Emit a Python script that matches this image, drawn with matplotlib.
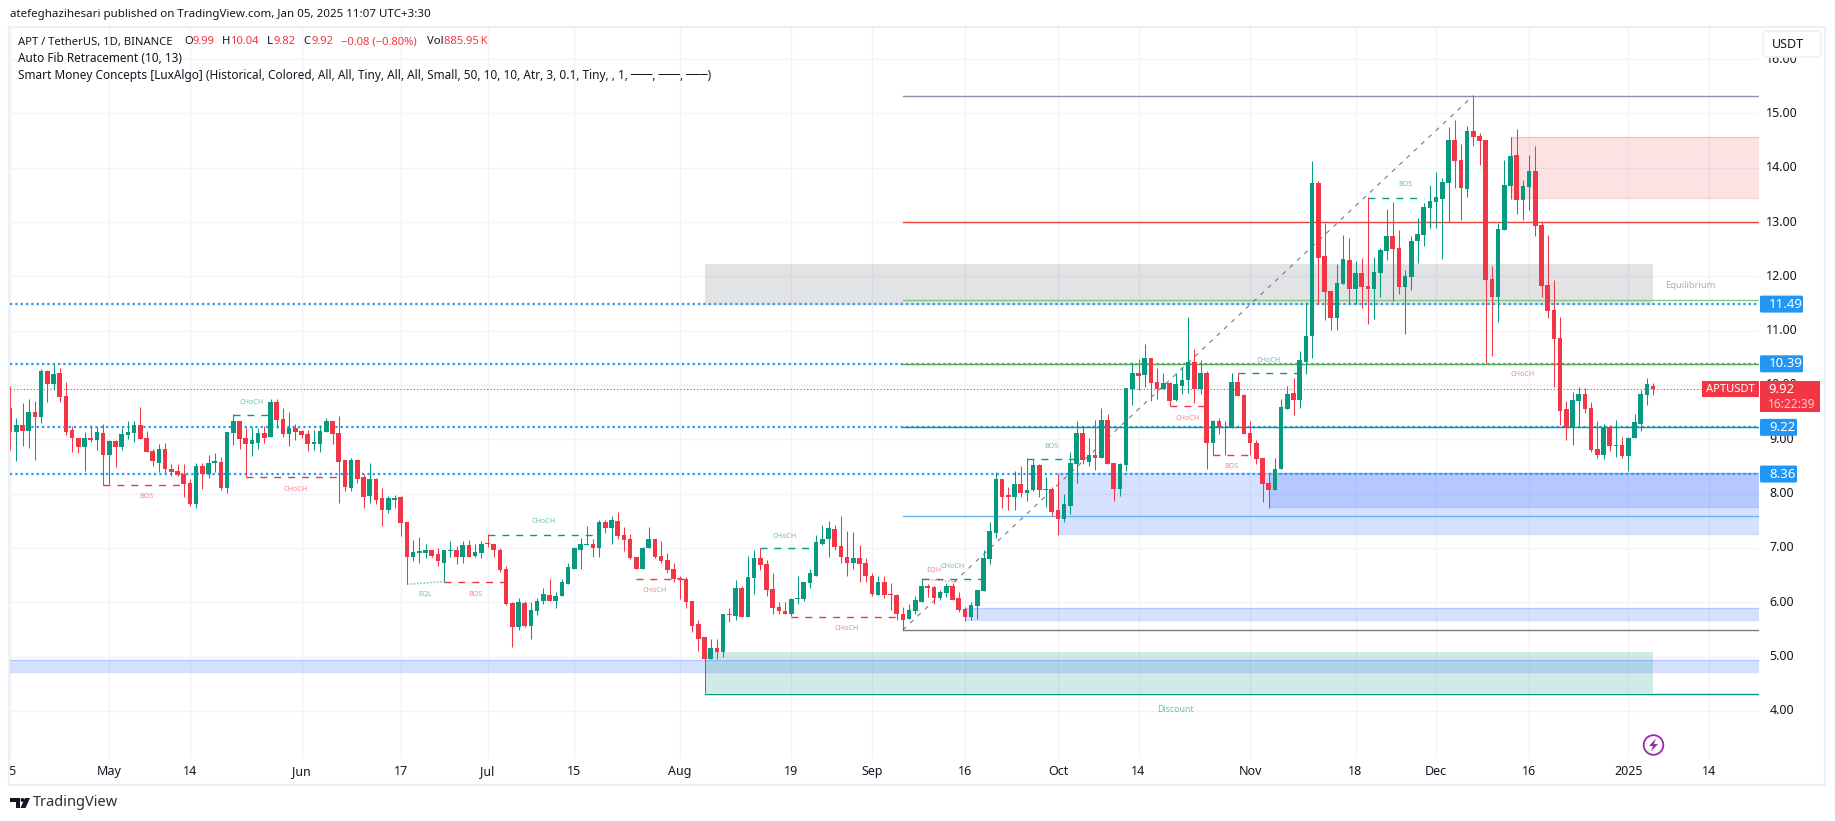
import numpy as np
import pandas as pd
import matplotlib
matplotlib.use("Agg")
import matplotlib.pyplot as plt
from matplotlib.patches import Rectangle, FancyBboxPatch, Circle, Polygon

plt.rcParams['font.family'] = ['Noto Sans', 'DejaVu Sans']

GREEN = '#089981'
RED = '#F23645'
BLUE = '#2196F3'
GRID = '#F1F3F8'
DARK = '#131722'

# daily candles, Apr 15 2024 to Jan 5 2025
start_date = '2024-04-15'
opens = [9.58,9.13,9.27,9.15,9.51,9.41,10.25,10.01,10.22,9.79,
         9.18,9.03,8.86,9.02,8.98,9.11,8.71,8.96,8.86,9.08,
         9.11,9.26,9.02,8.78,8.57,8.83,8.46,8.41,8.37,8.20,
         7.80,8.50,8.37,8.57,8.59,8.11,9.11,9.33,9.02,8.92,
         8.94,9.11,9.05,9.68,9.37,9.09,9.20,9.16,9.09,8.92,
         8.92,9.14,9.33,9.11,8.61,8.11,8.61,8.30,7.96,8.26,
         7.91,7.69,7.89,7.93,7.47,6.83,6.91,6.91,6.96,6.88,
         6.73,6.94,6.96,6.84,7.05,6.86,6.91,7.08,7.07,6.97,
         6.61,5.98,5.54,5.98,5.57,5.83,6.02,6.14,6.03,6.11,
         6.33,6.62,6.97,7.05,7.07,6.99,7.47,7.36,7.49,7.23,
         7.16,6.83,6.61,6.99,7.16,6.86,6.77,6.61,6.44,6.42,
         6.02,5.59,5.35,4.96,5.15,5.08,5.78,5.74,6.27,5.72,
         6.44,6.81,6.70,6.24,5.92,5.83,5.78,6.05,6.05,6.35,
         6.49,7.08,7.16,7.34,7.03,6.84,6.73,6.81,6.72,6.49,
         6.14,6.37,6.14,6.13,5.78,5.69,5.84,6.01,6.30,6.28,
         6.08,6.17,6.30,6.08,5.88,5.73,5.93,6.21,6.80,7.28,
         8.26,7.98,7.94,8.17,8.02,8.06,8.52,8.06,8.09,7.69,
         7.54,7.78,8.55,9.11,8.59,8.72,8.66,9.35,8.57,8.09,
         8.52,9.92,10.22,10.18,10.49,10.05,9.92,10.03,9.72,9.99,
         10.09,10.42,9.92,10.22,8.94,9.33,9.20,9.20,10.05,9.81,
         9.11,8.94,8.65,8.20,8.06,8.46,9.55,9.85,9.72,10.43,
         10.90,13.72,12.37,11.73,11.23,11.86,12.30,11.77,12.06,11.82,
         11.77,12.06,12.47,12.74,12.52,11.80,11.99,12.65,12.76,13.26,
         13.37,13.42,13.72,14.51,14.14,13.61,14.67,14.58,14.51,11.95,
         11.62,12.85,13.66,14.23,13.40,13.64,13.94,12.94,11.84,11.38,
         10.87,9.55,9.22,9.70,9.83,9.57,8.83,8.72,9.20,8.87,
         8.89,8.70,9.02,9.29,9.81,9.99]
highs = [9.98,9.40,9.66,9.75,9.70,10.30,10.27,10.41,10.32,10.05,
         9.25,9.03,9.13,9.26,9.22,9.29,8.98,8.98,9.20,9.33,
         9.33,9.59,9.16,8.83,8.92,8.94,8.54,8.54,8.55,8.26,
         8.57,8.57,8.72,8.74,8.68,9.13,9.46,9.33,9.20,9.22,
         9.20,9.24,9.75,9.74,9.57,9.50,9.29,9.18,9.18,9.18,
         9.26,9.40,9.33,9.42,8.61,8.65,8.63,8.37,8.57,8.28,
         8.11,7.96,7.98,7.95,7.47,7.14,7.20,7.07,6.96,7.00,
         6.97,7.12,7.03,7.12,7.14,7.07,7.12,7.25,7.08,6.99,
         6.66,6.00,6.07,6.02,6.00,6.07,6.27,6.42,6.18,6.42,
         6.72,7.01,7.18,7.40,7.16,7.51,7.51,7.58,7.67,7.38,
         7.25,6.84,7.01,7.38,7.16,7.12,6.90,6.72,6.48,6.46,
         6.03,5.67,5.35,5.33,5.33,5.78,5.90,6.40,6.29,6.86,
         6.96,6.99,6.77,6.53,6.00,6.00,6.07,6.48,6.38,6.61,
         7.23,7.42,7.49,7.42,7.58,7.31,7.29,7.05,6.81,6.53,
         6.48,6.49,6.35,6.16,5.91,5.97,6.12,6.43,6.34,6.30,
         6.23,6.36,6.36,6.19,5.91,6.01,6.23,6.97,7.47,8.39,
         8.26,8.13,8.41,8.50,8.65,8.61,8.55,8.30,8.13,8.37,
         8.00,8.76,9.33,9.24,9.02,9.35,9.57,9.46,8.57,8.57,
         9.94,10.42,10.47,10.75,10.49,10.31,10.22,10.05,10.23,10.34,
         11.26,10.66,10.46,10.25,9.35,9.40,9.33,10.22,10.23,9.83,
         9.33,8.98,8.66,8.37,8.66,9.75,9.99,10.12,10.62,11.53,
         14.13,13.75,12.98,11.73,12.23,12.76,12.71,12.28,12.34,13.46,
         12.36,12.52,13.24,13.37,12.85,12.12,12.74,13.07,13.35,13.68,
         13.92,13.81,14.75,14.88,14.44,14.77,15.33,14.64,14.51,12.19,
         12.98,14.14,14.56,14.71,13.77,14.23,14.40,13.00,12.76,11.93,
         11.25,9.70,9.87,9.96,9.94,9.68,9.33,9.29,9.27,9.35,
         9.05,9.05,9.46,9.90,10.12,10.04]
lows = [8.81,8.60,8.87,8.84,8.62,9.30,9.69,9.91,9.69,9.08,
        8.76,8.74,8.41,8.95,8.80,8.15,8.17,8.49,8.80,9.00,
        8.95,9.00,8.76,8.50,8.39,8.38,8.32,8.32,7.94,7.77,
        7.73,8.09,8.28,8.39,8.07,8.02,8.90,8.83,8.30,8.70,
        8.83,8.94,9.04,9.20,9.05,8.87,8.98,9.03,8.79,8.81,
        8.76,9.14,8.92,7.83,8.04,8.04,8.20,7.74,7.82,7.80,
        7.41,7.65,7.74,7.22,6.33,6.76,6.72,6.81,6.83,6.66,
        6.38,6.84,6.70,6.73,6.84,6.83,6.81,7.01,6.84,6.55,
        5.94,5.17,5.48,5.55,5.33,5.76,5.96,6.02,5.90,6.11,
        6.33,6.62,6.61,7.05,6.84,6.84,7.27,7.08,7.16,6.94,
        6.79,6.61,6.61,6.99,6.81,6.73,6.53,6.38,6.05,5.89,
        5.46,5.11,4.32,4.96,4.95,5.00,5.63,5.68,5.72,5.72,
        6.16,6.59,6.11,5.79,5.79,5.78,5.74,5.96,6.02,6.26,
        6.49,7.05,6.83,6.96,6.72,6.49,6.61,6.38,6.38,6.11,
        6.13,6.07,5.85,5.68,5.49,5.69,5.78,6.01,6.10,5.97,
        6.04,6.10,6.04,5.82,5.66,5.67,5.69,6.21,6.71,7.19,
        7.74,7.69,7.70,7.94,7.87,8.04,7.93,7.76,7.58,7.24,
        7.48,7.63,8.20,8.55,8.50,8.44,8.66,8.54,7.87,7.96,
        8.42,9.64,9.90,9.96,9.70,9.75,9.92,9.62,9.70,9.83,
        9.85,9.66,9.83,8.46,8.72,9.09,8.72,9.20,9.79,9.09,
        8.72,8.55,7.85,7.74,8.06,8.46,9.55,9.44,9.57,10.20,
        10.50,11.50,11.20,11.01,11.01,11.86,11.50,11.50,11.42,11.12,
        11.21,11.62,12.30,11.55,11.67,10.94,11.75,12.25,12.56,12.89,
        12.89,12.32,13.00,13.63,13.04,13.46,14.40,14.05,10.40,10.53,
        11.16,12.85,13.42,13.15,13.04,13.22,12.74,11.62,11.23,9.96,
        9.27,8.98,8.89,9.27,9.48,8.76,8.66,8.63,8.79,8.68,
        8.66,8.42,9.02,9.16,9.64,9.82]
closes = [9.13,9.27,9.15,9.51,9.41,10.25,10.01,10.20,9.77,9.14,
          9.02,8.86,9.02,8.98,9.13,8.71,8.96,8.86,9.09,9.13,
          9.26,9.00,8.76,8.60,8.83,8.45,8.39,8.35,8.17,7.80,
          8.50,8.37,8.57,8.59,8.11,9.13,9.33,9.00,8.92,8.98,
          9.11,9.03,9.68,9.35,9.09,9.20,9.14,9.07,8.92,8.94,
          9.16,9.33,9.09,8.59,8.13,8.61,8.26,7.94,8.26,7.89,
          7.69,7.91,7.91,7.45,6.83,6.92,6.92,6.96,6.86,6.75,
          6.96,6.96,6.84,7.05,6.84,6.92,7.08,7.07,6.96,6.59,
          5.96,5.54,6.00,5.57,5.85,6.03,6.16,6.02,6.11,6.37,
          6.64,6.99,7.08,7.07,6.99,7.47,7.36,7.51,7.21,7.14,
          6.81,6.61,6.99,7.16,6.83,6.75,6.59,6.42,6.42,6.00,
          5.57,5.33,4.96,5.15,5.08,5.78,5.76,6.27,5.72,6.46,
          6.81,6.68,6.22,5.90,5.83,5.78,6.05,6.07,6.37,6.53,
          7.10,7.16,7.36,7.01,6.83,6.73,6.81,6.70,6.48,6.16,
          6.37,6.13,6.13,5.78,5.67,5.86,6.04,6.30,6.27,6.08,
          6.19,6.30,6.04,5.86,5.73,5.95,6.23,6.82,7.32,8.26,
          7.94,7.94,8.17,8.02,8.07,8.52,8.06,8.07,7.67,7.54,
          7.80,8.57,9.11,8.61,8.72,8.66,9.35,8.55,8.09,8.54,
          9.94,10.22,10.16,10.49,10.03,9.92,10.03,9.70,10.01,10.10,
          10.42,9.92,10.22,8.94,9.33,9.20,9.22,10.05,9.79,9.09,
          8.94,8.63,8.18,8.06,8.46,9.59,9.83,9.72,10.46,10.90,
          13.72,12.34,11.71,11.23,11.88,12.32,11.77,12.06,11.80,11.77,
          12.08,12.48,12.74,12.50,11.80,12.01,12.65,12.78,13.28,13.39,
          13.46,13.74,14.51,14.12,13.63,14.67,14.56,14.49,11.93,11.62,
          12.87,13.68,14.21,13.40,13.66,13.94,12.93,11.82,11.36,10.85,
          9.53,9.22,9.72,9.83,9.55,8.81,8.72,9.20,8.87,8.89,
          8.70,9.03,9.31,9.83,10.01,9.92]

# axis ticks
tick_dates = ['2024-04-15', '2024-05-01', '2024-05-14', '2024-06-01', '2024-06-17',
              '2024-07-01', '2024-07-15', '2024-08-01', '2024-08-19', '2024-09-01',
              '2024-09-16', '2024-10-01', '2024-10-14', '2024-11-01', '2024-11-18',
              '2024-12-01', '2024-12-16', '2025-01-01', '2025-01-14']
tick_labels = ['15', 'May', '14', 'Jun', '17', 'Jul', '15', 'Aug', '19', 'Sep',
               '16', 'Oct', '14', 'Nov', '18', 'Dec', '16', '2025', '14']
price_ticks = [4, 5, 6, 7, 8, 9, 10, 11, 12, 13, 14, 15, 16]

# horizontal indicator levels
support_levels = [11.49, 10.39, 9.22, 8.36]
last_price = 9.92
fib_start = '2024-09-06'
fib_end = '2024-12-07'
fib_low = 5.49
fib_high = 15.33
fib_levels = [15.33, 13.00, 11.56, 10.38, 9.22, 7.59, 5.49]
fib_colors = ['#8E92AE', '#E8453C', '#81C784', '#4CAF50', GREEN, '#64B5F6', '#787B86']
discount_start = '2024-08-05'
discount_low = 4.31

# boxes: start date, end date (None = right edge), low, high
box_start = ['2024-04-15', '2024-08-05', '2024-08-05', '2024-12-13',
             '2024-10-01', '2024-11-04', '2024-09-16']
box_end = [None, '2025-01-05', '2025-01-05', None, None, None, None]
box_low = [4.72, 4.32, 11.47, 13.44, 7.25, 7.75, 5.67]
box_high = [4.93, 5.08, 12.23, 14.56, 8.38, 8.38, 5.89]
box_face = ['#2962FF', GREEN, '#787B86', RED, '#2962FF', '#2962FF', '#2962FF']
box_alpha = [0.19, 0.19, 0.21, 0.14, 0.19, 0.19, 0.19]
box_edge = ['#2962FF', 'none', 'none', RED, '#2962FF', '#2962FF', '#2962FF']

# structure breaks: dashed line and its label
struct_from = ['2024-04-30', '2024-05-21', '2024-05-23', '2024-06-24', '2024-07-01', '2024-07-25',
               '2024-08-14', '2024-08-19', '2024-09-09', '2024-09-26', '2024-10-19', '2024-10-30',
               '2024-10-26', '2024-11-20']
struct_to = ['2024-05-13', '2024-05-27', '2024-06-07', '2024-07-04', '2024-07-18', '2024-08-02',
             '2024-08-23', '2024-09-05', '2024-09-19', '2024-10-04', '2024-10-25', '2024-11-09',
             '2024-11-01', '2024-11-29']
struct_price = [8.15, 9.45, 8.30, 6.38, 7.24, 6.43, 6.99, 5.73, 6.43, 8.64, 9.62, 10.23, 8.71, 13.45]
struct_color = [RED, GREEN, RED, RED, GREEN, RED, GREEN, RED, GREEN, GREEN, RED, GREEN, RED, GREEN]
struct_text = ['BOS', 'CHoCH', 'CHoCH', 'BOS', 'CHoCH', 'CHoCH', 'CHoCH', 'CHoCH', 'CHoCH', 'BOS',
               'CHoCH', 'CHoCH', 'BOS', 'BOS']
struct_label_date = ['2024-05-07', '2024-05-24', '2024-05-31', '2024-06-29', '2024-07-10', '2024-07-28',
                     '2024-08-18', '2024-08-28', '2024-09-14', '2024-09-30', '2024-10-22', '2024-11-04',
                     '2024-10-29', '2024-11-26']
struct_label_price = [7.94, 9.67, 8.07, 6.15, 7.48, 6.21, 7.21, 5.51, 6.65, 8.87, 9.39, 10.46, 8.49, 13.69]

# equal lows / equal highs, dotted
eq_from = ['2024-06-18', '2024-09-09']
eq_to = ['2024-06-24', '2024-09-15']
eq_from_price = [6.33, 6.43]
eq_to_price = [6.38, 6.37]
eq_color = [GREEN, RED]
eq_text = ['EQL', 'EQH']
eq_label_date = ['2024-06-21', '2024-09-11']
eq_label_price = [6.15, 6.59]

# loose labels with no line of their own
extra_text = ['CHoCH', 'Equilibrium', 'Discount']
extra_date = ['2024-12-15', '2025-01-11', '2024-10-20']
extra_price = [10.20, 11.84, 4.03]
extra_color = [RED, '#787B86', GREEN]
extra_size = [5.2, 6.8, 6.3]

# price tags on the right
tag_prices = [11.49, 10.39, 9.22, 8.36]
tag_labels = ['11.49', '10.39', '9.22', '8.36']
tag_widths = [43, 43, 37, 37]

W, H = 1835, 821
PANE_L, PANE_R, PANE_T, PANE_B = 10, 1759, 28, 758
ORIGIN = pd.Timestamp('2024-05-01')


def day(date):
    return (pd.Timestamp(date) - ORIGIN).days


def px_to_day(x):
    return (x - 109.3) / 6.2


def px_to_price(y):
    return 15 - (y - 113.5) / 54.3


def price_to_px(p):
    return 113.5 + (15 - p) * 54.3


fig = plt.figure(figsize=(W / 100, H / 100), dpi=100, facecolor='white')
ax = fig.add_axes([PANE_L / W, 1 - PANE_B / H, (PANE_R - PANE_L) / W, (PANE_B - PANE_T) / H])
ax.set_xlim(px_to_day(PANE_L), px_to_day(PANE_R))
ax.set_ylim(px_to_price(PANE_B), px_to_price(PANE_T))
ax.set_xticks([day(d) for d in tick_dates])
ax.set_yticks(price_ticks)
ax.grid(True, color=GRID, lw=1.0)
ax.set_axisbelow(True)
ax.tick_params(length=0, labelbottom=False, labelleft=False)
for s in ax.spines.values():
    s.set_visible(False)

xmax = ax.get_xlim()[1]
xmin = ax.get_xlim()[0]

# boxes
for i in range(len(box_start)):
    x0 = max(day(box_start[i]), xmin)
    x1 = xmax if box_end[i] is None else day(box_end[i])
    ax.add_patch(Rectangle((x0, box_low[i]), x1 - x0, box_high[i] - box_low[i],
                           facecolor=box_face[i], alpha=box_alpha[i], edgecolor='none', zorder=1.2))
    if box_edge[i] != 'none':
        ax.plot([x0, x1], [box_low[i], box_low[i]], color=box_edge[i], alpha=0.2, lw=1.0, zorder=1.3)
        ax.plot([x0, x1], [box_high[i], box_high[i]], color=box_edge[i], alpha=0.2, lw=1.0, zorder=1.3)

# indicator lines
for p in support_levels:
    ax.plot([xmin, xmax], [p, p], color=BLUE, lw=1.6, ls=(0, (1, 1.4)), zorder=2)
ax.plot([xmin, xmax], [last_price, last_price], color=RED, lw=0.8, ls=(0, (1, 2)), zorder=2)

for p, c in zip(fib_levels, fib_colors):
    ax.plot([day(fib_start), xmax], [p, p], color=c, lw=1.0, zorder=2.1)
ax.plot([day(discount_start), xmax], [discount_low, discount_low], color=GREEN, lw=1.0, zorder=2.1)
ax.plot([day(fib_start), day(fib_end)], [fib_low, fib_high], color='#787B86', lw=0.8,
        ls=(0, (4, 5)), zorder=2.1)

for i in range(len(struct_price)):
    ax.plot([day(struct_from[i]), day(struct_to[i])], [struct_price[i], struct_price[i]],
            color=struct_color[i], lw=1.0, ls=(0, (5, 5)), zorder=2.2)
    ax.text(day(struct_label_date[i]), struct_label_price[i], struct_text[i], color=struct_color[i],
            alpha=0.6, fontsize=5.2, ha='center', va='center', zorder=4)

for i in range(len(eq_text)):
    ax.plot([day(eq_from[i]), day(eq_to[i])], [eq_from_price[i], eq_to_price[i]], color=eq_color[i],
            alpha=0.5, lw=1.2, ls=(0, (1, 1)), zorder=2.2)
    ax.text(day(eq_label_date[i]), eq_label_price[i], eq_text[i], color=eq_color[i], alpha=0.6,
            fontsize=5.2, ha='center', va='center', zorder=4)

for i in range(len(extra_text)):
    ax.text(day(extra_date[i]), extra_price[i], extra_text[i], color=extra_color[i], alpha=0.6,
            fontsize=extra_size[i], ha='center', va='center', zorder=4)

# candles
o = np.array(opens)
h = np.array(highs)
l = np.array(lows)
c = np.array(closes)
xs = np.array([day(d) for d in pd.date_range(start_date, periods=len(o))])
colors = [GREEN if cl >= op else RED for op, cl in zip(o, c)]
ax.vlines(xs, l, h, colors=colors, lw=0.75, zorder=3)
body_low = np.minimum(o, c)
body_h = np.maximum(np.abs(c - o), 0.025)
ax.bar(xs, body_h, bottom=body_low, width=0.76, color=colors, linewidth=0, zorder=3.1)

# time axis row, so the first label gets cut at the pane edge like the original
tax = fig.add_axes([PANE_L / W, 1 - 785 / H, (PANE_R - PANE_L) / W, (785 - PANE_B) / H])
tax.set_xlim(ax.get_xlim())
tax.set_ylim(1, 0)
tax.axis('off')
for d, t in zip(tick_dates, tick_labels):
    tax.text(day(d), 0.5, t, ha='center', va='center', fontsize=9, clip_on=True,
             color=DARK, fontweight='bold' if t == '2025' else 'normal')

# everything in screen pixels goes on an overlay
ov = fig.add_axes([0, 0, 1, 1], facecolor='none')
ov.set_xlim(0, W)
ov.set_ylim(H, 0)
ov.axis('off')

# frame
ov.add_patch(Rectangle((9, 27), 1816, 758.5, fill=False, edgecolor='#EEF0F6', lw=1.6))

# price axis
for p in price_ticks:
    ov.text(1782, price_to_px(p), f'{p:.2f}', ha='center', va='center', fontsize=9, color=DARK, zorder=2)

ov.add_patch(FancyBboxPatch((1765, 33), 54, 22, boxstyle='round,pad=2,rounding_size=4',
                            facecolor='white', edgecolor='#EEF0F6', lw=1.2, zorder=3))
ov.text(1772, 44.5, 'USDT', ha='left', va='center', fontsize=9, color=DARK, zorder=4)

for p, t, w in zip(tag_prices, tag_labels, tag_widths):
    y = price_to_px(p)
    ov.add_patch(FancyBboxPatch((1760, y - 8.5), w, 17, boxstyle='round,pad=0,rounding_size=1.5',
                                facecolor=BLUE, edgecolor='none', zorder=5))
    ov.text(1769, y, t, ha='left', va='center', fontsize=9.5, color='white', zorder=6)

y_last = price_to_px(last_price)
ov.add_patch(Rectangle((1760, y_last - 8), 60, 31, facecolor=RED, edgecolor='none', zorder=5))
ov.text(1768, y_last, f'{last_price:.2f}', ha='left', va='center', fontsize=9.5, color='white', zorder=6)
ov.text(1768, y_last + 15, '16:22:39', ha='left', va='center', fontsize=8.6, color='#FBC9CE', zorder=6)
ov.add_patch(Rectangle((1702, y_last - 8), 57, 16, facecolor=RED, edgecolor='none', zorder=5))
ov.text(1730.5, y_last, 'APTUSDT', ha='center', va='center', fontsize=8, color='white', zorder=6)

# header text
ov.text(10, 15, 'atefeghazihesari published on TradingView.com, Jan 05, 2025 11:07 UTC+3:30',
        ha='left', va='center', fontsize=8.3, color=DARK)

legend_pieces = [(18, 'APT / TetherUS, 1D, BINANCE', DARK), (184, 'O', DARK), (192, '9.99', RED),
                 (222, 'H', DARK), (230, '10.04', RED), (267, 'L', DARK), (273, '9.82', RED),
                 (303, 'C', DARK), (311, '9.92', RED), (341, '\u22120.08 (\u22120.80%)', RED),
                 (427, 'Vol', DARK), (444, '885.95\u2009K', RED)]
for x, t, col in legend_pieces:
    ov.text(x, 42, t, ha='left', va='center', fontsize=8.1, color=col)
ov.text(18, 59, 'Auto Fib Retracement (10, 13)', ha='left', va='center', fontsize=8.5, color=DARK)
ov.text(18, 76, 'Smart Money Concepts [LuxAlgo] (Historical, Colored, All, All, Tiny, All, All, Small, '
        '50, 10, 10, Atr, 3, 0.1, Tiny, , 1, \u2500\u2500\u2500, \u2500\u2500\u2500, \u2500\u2500\u2500)',
        ha='left', va='center', fontsize=8.5, color=DARK)

# lightning badge
ov.add_patch(Circle((1653.5, 745), 9.8, fill=False, edgecolor='#9C27B0', lw=1.3))
ov.add_patch(Polygon([(1656, 738.5), (1649, 746), (1653, 746), (1651, 751.5), (1658, 744), (1654, 744)],
                     closed=True, facecolor='#9C27B0', edgecolor='none'))

# TradingView logo
ov.add_patch(Polygon([(10, 798), (20, 798), (20, 808), (15.5, 808), (15.5, 802), (10, 802)],
                     closed=True, facecolor=DARK, edgecolor='none'))
ov.add_patch(Circle((22.5, 800), 2, facecolor=DARK, edgecolor='none'))
ov.add_patch(Polygon([(25, 798), (30, 798), (25.5, 808), (20.5, 808)], closed=True,
                     facecolor=DARK, edgecolor='none'))
ov.text(33, 803, 'TradingView', ha='left', va='center', fontsize=10.5, color='#2A2E39')

fig.savefig('out.png', dpi=100)
